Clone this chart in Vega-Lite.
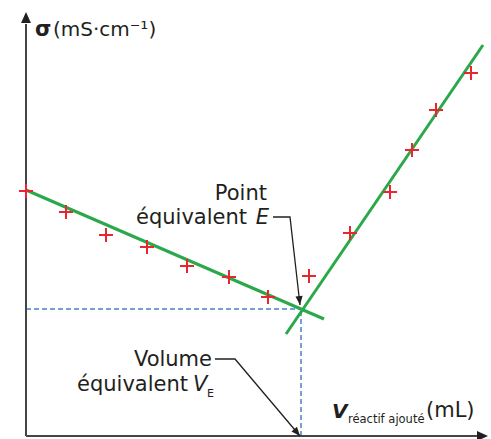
{
  "$schema": "https://vega.github.io/schema/vega-lite/v6.json",
  "width": 491,
  "height": 439,
  "autosize": "none",
  "padding": 0,
  "background": "white",
  "config": {"view": {"stroke": null}, "text": {"font": "DejaVu Sans", "color": "#231f20", "baseline": "alphabetic"}},
  "datasets": {
    "points": [
      {"V": 0, "sigma": 6.125}, {"V": 2, "sigma": 5.6}, {"V": 4, "sigma": 5.025},
      {"V": 6.05, "sigma": 4.725}, {"V": 8.05, "sigma": 4.25}, {"V": 10.15, "sigma": 3.975},
      {"V": 12.1, "sigma": 3.475}, {"V": 14.15, "sigma": 4.0}, {"V": 16.2, "sigma": 5.075},
      {"V": 18.2, "sigma": 6.1}, {"V": 19.3, "sigma": 7.15}, {"V": 20.5, "sigma": 8.15},
      {"V": 22.25, "sigma": 9.075}
    ],
    "fits": [
      {"branch": "avant", "V": 0, "sigma": 6.15}, {"branch": "avant", "V": 14.9, "sigma": 2.925},
      {"branch": "apres", "V": 13.0, "sigma": 2.55}, {"branch": "apres", "V": 22.85, "sigma": 9.775}
    ],
    "connE": [
      {"o": 1, "V": 12.35, "sigma": 5.475}, {"o": 2, "V": 13.2, "sigma": 5.475}, {"o": 3, "V": 13.7, "sigma": 3.275}
    ],
    "connV": [
      {"o": 1, "V": 9.45, "sigma": 1.925}, {"o": 2, "V": 10.45, "sigma": 1.925}, {"o": 3, "V": 13.7, "sigma": 0.0}
    ]
  },
  "encoding": {
    "x": {"field": "V", "type": "quantitative", "scale": {"domain": [-1.3, 23.25], "nice": false, "zero": false}, "axis": null},
    "y": {"field": "sigma", "type": "quantitative", "scale": {"domain": [-0.075, 10.9], "nice": false, "zero": false}, "axis": null}
  },
  "layer": [
    {
      "data": {"values": [{"V": 0, "sigma": 3.175, "V2": 13.75}]},
      "mark": {"type": "rule", "color": "#4a7fcf", "strokeWidth": 1.5, "strokeDash": [5, 3]},
      "encoding": {"x2": {"field": "V2"}}
    },
    {
      "data": {"values": [{"V": 13.75, "sigma": 0, "sigma2": 3.175}]},
      "mark": {"type": "rule", "color": "#4a7fcf", "strokeWidth": 1.5, "strokeDash": [5, 3]},
      "encoding": {"y2": {"field": "sigma2"}}
    },
    {
      "data": {"values": [{"V": 0, "sigma": 0, "V2": 22.6}]},
      "mark": {"type": "rule", "color": "#454545", "strokeWidth": 2},
      "encoding": {"x2": {"field": "V2"}}
    },
    {
      "data": {"values": [{"V": 0, "sigma": 0, "sigma2": 10.3}]},
      "mark": {"type": "rule", "color": "#454545", "strokeWidth": 2},
      "encoding": {"y2": {"field": "sigma2"}}
    },
    {
      "data": {"values": [{"V": 23.1, "sigma": 0}]},
      "mark": {"type": "point", "shape": "M0,0L-1,-0.45L-1,0.45Z", "filled": true, "color": "#231f20", "opacity": 1, "size": 484}
    },
    {
      "data": {"values": [{"V": 0, "sigma": 10.6}]},
      "mark": {"type": "point", "shape": "M0,0L-0.45,1L0.45,1Z", "filled": true, "color": "#231f20", "opacity": 1, "size": 484}
    },
    {
      "data": {"name": "fits"},
      "mark": {"type": "line", "color": "#2aa84a", "strokeWidth": 3},
      "encoding": {"detail": {"field": "branch"}}
    },
    {
      "data": {"name": "points"},
      "mark": {"type": "point", "shape": "M-1,0H1M0,-1V1", "filled": false, "color": "#e8262d", "strokeWidth": 2, "opacity": 1, "size": 196}
    },
    {
      "data": {"name": "connE"},
      "mark": {"type": "line", "color": "#231f20", "strokeWidth": 1.3},
      "encoding": {"order": {"field": "o"}}
    },
    {
      "data": {"name": "connV"},
      "mark": {"type": "line", "color": "#231f20", "strokeWidth": 1.3},
      "encoding": {"order": {"field": "o"}}
    },
    {
      "data": {"values": [{"V": 13.7, "sigma": 3.275}]},
      "mark": {"type": "point", "shape": "M0,0L-0.4,-1L0.4,-1Z", "filled": true, "color": "#231f20", "opacity": 1, "size": 324, "angle": 354}
    },
    {
      "data": {"values": [{"V": 13.7, "sigma": 0.0}]},
      "mark": {"type": "point", "shape": "M0,0L-0.4,-1L0.4,-1Z", "filled": true, "color": "#231f20", "opacity": 1, "size": 324, "angle": 320}
    },
    {
      "data": {"values": [
        {"V": 12.05, "sigma": 5.9, "t": "Point"},
        {"V": 11.05, "sigma": 5.3, "t": "équivalent"},
        {"V": 9.3, "sigma": 1.75, "t": "Volume"},
        {"V": 8.1, "sigma": 1.125, "t": "équivalent"}
      ]},
      "mark": {"type": "text", "align": "right", "fontSize": 21},
      "encoding": {"text": {"field": "t"}}
    },
    {
      "data": {"values": [{"V": 12.15, "sigma": 5.3, "t": "E"}]},
      "mark": {"type": "text", "align": "right", "fontSize": 21, "fontStyle": "italic"},
      "encoding": {"text": {"field": "t"}}
    },
    {
      "data": {"values": [{"V": 8.35, "sigma": 1.125, "t": "V"}]},
      "mark": {"type": "text", "align": "left", "fontSize": 21, "fontStyle": "italic"},
      "encoding": {"text": {"field": "t"}}
    },
    {
      "data": {"values": [{"V": 9.05, "sigma": 0.975, "t": "E"}]},
      "mark": {"type": "text", "align": "left", "fontSize": 11},
      "encoding": {"text": {"field": "t"}}
    },
    {
      "data": {"values": [{"V": 0.45, "sigma": 10.0, "t": "σ"}]},
      "mark": {"type": "text", "align": "left", "fontSize": 21, "fontWeight": "bold"},
      "encoding": {"text": {"field": "t"}}
    },
    {
      "data": {"values": [{"V": 1.35, "sigma": 10.0, "t": "(mS·cm⁻¹)"}]},
      "mark": {"type": "text", "align": "left", "fontSize": 20},
      "encoding": {"text": {"field": "t"}}
    },
    {
      "data": {"values": [{"V": 15.3, "sigma": 0.45, "t": "V"}]},
      "mark": {"type": "text", "align": "left", "fontSize": 20, "fontWeight": "bold", "fontStyle": "italic"},
      "encoding": {"text": {"field": "t"}}
    },
    {
      "data": {"values": [{"V": 16.1, "sigma": 0.325, "t": "réactif ajouté"}]},
      "mark": {"type": "text", "align": "left", "fontSize": 11.5},
      "encoding": {"text": {"field": "t"}}
    },
    {
      "data": {"values": [{"V": 20.0, "sigma": 0.475, "t": "(mL)"}]},
      "mark": {"type": "text", "align": "left", "fontSize": 21},
      "encoding": {"text": {"field": "t"}}
    }
  ]
}
